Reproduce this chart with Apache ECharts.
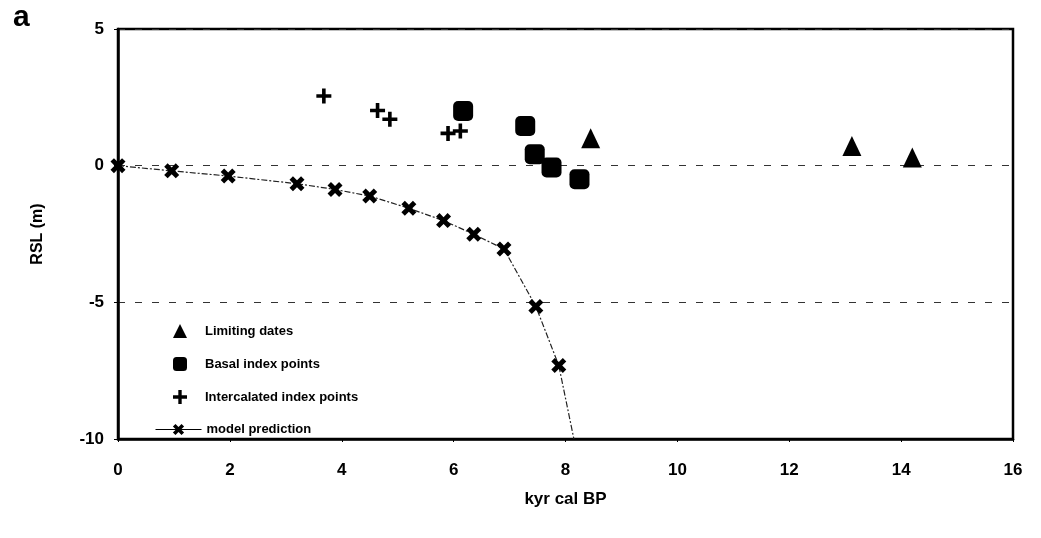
<!DOCTYPE html>
<html>
<head>
<meta charset="utf-8">
<script src="https://cdn.jsdelivr.net/npm/echarts@6/dist/echarts.min.js"></script>
<style>
  html, body { margin: 0; padding: 0; background: #fff; }
  #chart { width: 1041px; height: 538px; }
</style>
</head>
<body>
<div id="chart"></div>
<script>
// Relative sea level (m) against age (kyr cal BP)
const xTicks = [0, 2, 4, 6, 8, 10, 12, 14, 16];
const yTicks = [-10, -5, 0, 5];

const limitingAge = [8.45, 13.12, 14.2];
const limitingRsl = [1.0, 0.72, 0.3];

const basalAge = [6.17, 7.28, 7.45, 7.75, 8.25];
const basalRsl = [2.0, 1.45, 0.42, -0.07, -0.5];

const intercalAge = [3.68, 4.64, 4.86, 5.9, 6.12];
const intercalRsl = [2.55, 2.02, 1.7, 1.18, 1.27];

const modelAge = [0, 0.96, 1.97, 3.2, 3.88, 4.5, 5.2, 5.82, 6.36, 6.9, 7.47, 7.88, 8.15];
const modelRsl = [0, -0.19, -0.38, -0.66, -0.87, -1.11, -1.56, -2.01, -2.51, -3.05, -5.15, -7.31, -10];

const names = ['Limiting dates', 'Basal index points', 'Intercalated index points', 'model prediction'];

const plusPath = 'path://M3.8,0 H6.2 V3.8 H10 V6.2 H6.2 V10 H3.8 V6.2 H0 V3.8 H3.8 Z';
const crossPath = 'path://M0,2.3 L2.3,0 L5,2.7 L7.7,0 L10,2.3 L7.3,5 L10,7.7 L7.7,10 L5,7.3 L2.3,10 L0,7.7 L2.7,5 Z';

const pairs = (xs, ys) => xs.map((x, i) => [x, ys[i]]);

const FONT = '"Liberation Sans", Arial, sans-serif';
const legendText = { fontFamily: FONT, fontWeight: 'bold', fontSize: 13, color: '#000' };

// the curve runs on to the bottom of the frame; its last vertex carries no marker
const modelData = pairs(modelAge, modelRsl).map((p, i, arr) =>
  i === arr.length - 1 ? { value: p, symbolSize: 0 } : p);

const chart = echarts.init(document.getElementById('chart'), null, { renderer: 'canvas' });
chart.setOption({
  animation: false,
  backgroundColor: '#fff',
  textStyle: { fontFamily: FONT },
  graphic: [{
    type: 'text', left: 13, top: 3,
    style: { text: 'a', font: 'bold 30px ' + FONT, fill: '#000' }
  }],
  grid: {
    left: 118, right: 28, top: 29, bottom: 99,
    show: true, borderColor: '#000', borderWidth: 2.5, backgroundColor: 'transparent'
  },
  legend: [
    {
      orient: 'vertical',
      left: 168, top: 319,
      itemWidth: 14, itemHeight: 14, itemGap: 19,
      textStyle: Object.assign({ padding: [0, 0, 0, 13] }, legendText),
      data: [
        { name: names[0], icon: 'triangle' },
        { name: names[1], icon: 'roundRect' },
        { name: names[2], icon: plusPath }
      ]
    },
    {
      orient: 'vertical',
      left: 150, top: 418,
      itemWidth: 46, itemHeight: 14,
      textStyle: legendText,
      data: [
        { name: names[3], lineStyle: { type: 'solid', width: 1, color: '#000' } }
      ]
    }
  ],
  xAxis: {
    type: 'value', min: xTicks[0], max: xTicks[xTicks.length - 1], interval: 2,
    name: 'kyr cal BP', nameLocation: 'middle', nameGap: 52,
    nameTextStyle: { fontFamily: FONT, fontWeight: 'bold', fontSize: 17, color: '#000' },
    axisLine: { show: true, onZero: false, lineStyle: { color: '#000', width: 2.5 } },
    axisTick: { show: true, length: 3, lineStyle: { color: '#000' } },
    axisLabel: { margin: 23, fontFamily: FONT, fontWeight: 'bold', fontSize: 17, color: '#000' },
    splitLine: { show: false }
  },
  yAxis: {
    type: 'value', min: yTicks[0], max: yTicks[yTicks.length - 1], interval: 5,
    name: 'RSL (m)', nameLocation: 'middle', nameGap: 72, nameRotate: 90,
    nameTextStyle: { fontFamily: FONT, fontWeight: 'bold', fontSize: 16, color: '#000' },
    axisLine: { show: true, onZero: false, lineStyle: { color: '#000', width: 2.5 } },
    axisTick: { show: true, length: 4, lineStyle: { color: '#000' } },
    axisLabel: { margin: 14, fontFamily: FONT, fontWeight: 'bold', fontSize: 17, color: '#000' },
    splitLine: { show: true, lineStyle: { color: '#333', width: 1, type: [7, 10] } }
  },
  series: [
    {
      name: names[0], type: 'scatter', data: pairs(limitingAge, limitingRsl),
      symbol: 'triangle', symbolSize: [19, 20],
      itemStyle: { color: '#000', opacity: 1 }
    },
    {
      name: names[1], type: 'scatter', data: pairs(basalAge, basalRsl),
      symbol: 'roundRect', symbolSize: 20,
      itemStyle: { color: '#000', opacity: 1 }
    },
    {
      name: names[2], type: 'scatter', data: pairs(intercalAge, intercalRsl),
      symbol: plusPath, symbolSize: 15,
      itemStyle: { color: '#000', opacity: 1 }
    },
    {
      name: names[3], type: 'line', data: modelData,
      symbol: crossPath, symbolSize: 15, showSymbol: true,
      lineStyle: { color: '#222', width: 1.2, type: [6, 2, 2, 2] },
      itemStyle: { color: '#000', opacity: 1 },
      z: 3
    }
  ]
});
</script>
</body>
</html>
